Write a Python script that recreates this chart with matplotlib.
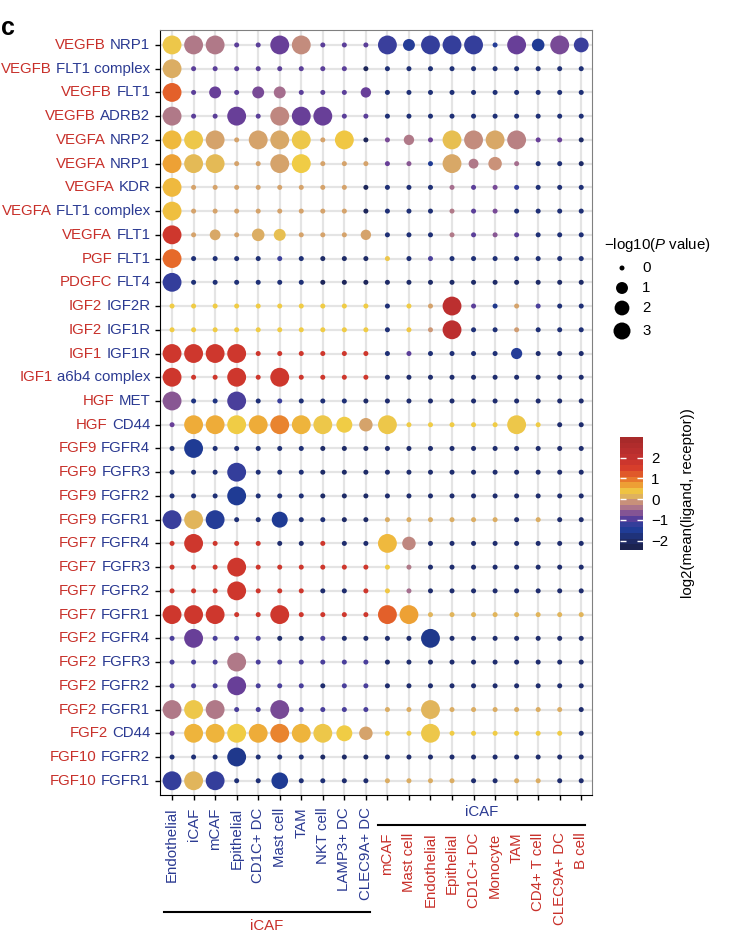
import numpy as np
import matplotlib
matplotlib.use('Agg')
import matplotlib.pyplot as plt
from matplotlib.colors import LinearSegmentedColormap, Normalize
from matplotlib.cm import ScalarMappable

plt.rcParams['font.family'] = ['Liberation Sans', 'DejaVu Sans']
plt.rcParams['mathtext.fontset'] = 'custom'
plt.rcParams['mathtext.it'] = 'Liberation Sans:italic'
plt.rcParams['mathtext.rm'] = 'Liberation Sans'

RED = '#c8302a'
BLUE = '#2b3a92'
FS = 10.8

# ligand / receptor pairs (rows, top to bottom)
ligands = ['VEGFB', 'VEGFB', 'VEGFB', 'VEGFB', 'VEGFA', 'VEGFA', 'VEGFA', 'VEGFA', 'VEGFA',
           'PGF', 'PDGFC', 'IGF2', 'IGF2', 'IGF1', 'IGF1', 'HGF', 'HGF',
           'FGF9', 'FGF9', 'FGF9', 'FGF9', 'FGF7', 'FGF7', 'FGF7', 'FGF7',
           'FGF2', 'FGF2', 'FGF2', 'FGF2', 'FGF2', 'FGF10', 'FGF10']
receptors = ['NRP1', 'FLT1 complex', 'FLT1', 'ADRB2', 'NRP2', 'NRP1', 'KDR', 'FLT1 complex', 'FLT1',
             'FLT1', 'FLT4', 'IGF2R', 'IGF1R', 'IGF1R', 'a6b4 complex', 'MET', 'CD44',
             'FGFR4', 'FGFR3', 'FGFR2', 'FGFR1', 'FGFR4', 'FGFR3', 'FGFR2', 'FGFR1',
             'FGFR4', 'FGFR3', 'FGFR2', 'FGFR1', 'CD44', 'FGFR2', 'FGFR1']

# columns: iCAF as ligand source (blue), iCAF as receptor target (red)
cols_blue = ['Endothelial', 'iCAF', 'mCAF', 'Epithelial', 'CD1C+ DC', 'Mast cell', 'TAM',
             'NKT cell', 'LAMP3+ DC', 'CLEC9A+ DC']
cols_red = ['mCAF', 'Mast cell', 'Endothelial', 'Epithelial', 'CD1C+ DC', 'Monocyte', 'TAM',
            'CD4+ T cell', 'CLEC9A+ DC', 'B cell']

# log2(mean(ligand, receptor)) per row
means = [
    [0.3, -0.4, -0.4, -1.0, -1.0, -0.9, -0.2, -1.0, -1.0, -1.0, -1.2, -1.5, -1.3, -1.3, -1.3, -1.5, -0.9, -1.6, -0.8, -1.2],
    [0.1, -1.0, -1.0, -1.0, -1.0, -1.0, -1.0, -1.0, -1.0, -2.3, -1.9, -1.9, -1.9, -1.9, -1.9, -1.9, -1.9, -1.9, -1.9, -1.9],
    [1.2, -1.0, -0.9, -1.0, -0.8, -0.5, -1.0, -1.0, -1.0, -0.9, -1.9, -1.9, -1.9, -1.9, -1.9, -1.9, -1.9, -1.9, -1.9, -1.9],
    [-0.4, -1.0, -1.0, -0.9, -1.0, -0.25, -0.9, -0.9, -1.0, -1.0, -1.9, -1.9, -1.9, -1.9, -1.9, -1.9, -1.9, -1.9, -1.9, -1.9],
    [0.5, 0.3, 0.0, 0.0, 0.0, 0.05, 0.3, 0.0, 0.4, -2.3, -0.8, -0.4, -0.9, 0.25, -0.2, 0.05, -0.3, -0.9, -0.9, -2.1],
    [0.7, 0.2, 0.2, 0.0, 0.0, 0.0, 0.35, 0.0, 0.0, 0.0, -0.9, -0.7, -1.6, 0.05, -0.4, -0.15, -0.5, -1.9, -1.9, -2.1],
    [0.5, 0.0, 0.0, 0.0, 0.0, 0.0, 0.0, 0.0, 0.0, -2.3, -1.9, -1.9, -1.9, -0.5, -1.0, -0.8, -1.3, -1.9, -1.9, -1.9],
    [0.45, 0.0, 0.0, 0.0, 0.0, 0.0, 0.0, 0.0, 0.0, -2.3, -1.9, -1.9, -1.9, -0.4, -1.0, -0.8, -1.9, -1.9, -1.9, -1.9],
    [1.8, 0.0, 0.05, 0.0, 0.1, 0.25, 0.0, 0.0, 0.0, 0.0, -1.9, -1.9, -1.9, -0.4, -1.0, -0.7, -1.0, -1.9, -1.9, -1.9],
    [1.1, -1.9, -1.9, -1.9, -1.9, -1.2, -1.9, -2.1, -2.1, -2.1, 0.3, -1.9, -1.1, -1.9, -1.9, -1.9, -1.9, -1.9, -1.9, -1.9],
    [-1.3, -1.9, -1.9, -1.9, -1.9, -1.9, -1.9, -2.3, -2.3, -2.3, -2.1, -2.1, -2.1, -2.1, -2.1, -2.1, -2.1, -2.1, -2.1, -2.1],
    [0.35, 0.35, 0.35, 0.35, 0.35, 0.35, 0.35, 0.35, 0.35, 0.35, -1.9, 0.35, 0.0, 2.3, -1.0, -1.7, 0.0, -1.1, -1.9, -1.9],
    [0.35, 0.35, 0.35, 0.35, 0.35, 0.35, 0.35, 0.35, 0.35, 0.35, -1.9, 0.4, -0.1, 2.3, -1.9, -1.9, -0.05, -1.9, -1.9, -1.9],
    [1.8, 1.8, 1.8, 1.8, 1.8, 1.8, 1.8, 1.8, 1.8, 1.8, -1.9, -1.0, -1.9, -1.9, -1.9, -1.9, -1.5, -2.0, -2.0, -2.0],
    [1.8, 1.8, 1.8, 1.8, 1.8, 1.8, 1.8, 1.8, 1.8, 1.8, -2.0, -2.0, -2.0, -2.0, -2.0, -2.0, -2.0, -2.0, -2.0, -2.0],
    [-0.7, -1.8, -1.8, -1.1, -1.9, -1.2, -1.9, -1.9, -1.9, -2.1, -2.0, -2.0, -2.0, -2.0, -2.0, -2.0, -2.0, -2.0, -2.0, -2.0],
    [-0.9, 0.6, 0.6, 0.35, 0.6, 0.9, 0.55, 0.3, 0.35, 0.0, 0.3, 0.35, 0.35, 0.35, 0.35, 0.35, 0.3, 0.35, -2.0, -2.0],
    [-1.9, -1.6, -1.9, -1.9, -1.9, -1.9, -1.9, -2.1, -2.1, -2.1, -2.0, -2.0, -2.0, -2.0, -2.0, -2.0, -2.0, -2.0, -2.0, -2.0],
    [-1.9, -1.9, -1.9, -1.3, -1.9, -1.9, -1.9, -2.1, -2.1, -2.1, -2.0, -2.0, -2.0, -2.0, -2.0, -2.0, -2.0, -2.0, -2.0, -2.0],
    [-1.9, -1.9, -1.9, -1.6, -1.9, -1.9, -1.9, -2.1, -2.1, -2.1, -2.0, -2.0, -2.0, -2.0, -2.0, -2.0, -2.0, -2.0, -2.0, -2.0],
    [-1.2, 0.15, -1.5, -1.9, -1.9, -1.6, -1.9, -1.9, -2.1, -2.1, 0.1, 0.1, 0.1, 0.1, 0.1, 0.1, -2.0, 0.1, -2.0, -2.0],
    [1.8, 1.8, 1.8, 1.8, 1.8, -2.0, -2.0, 1.8, -2.0, -2.0, 0.5, -0.25, -2.0, -2.0, -2.0, -2.0, -2.0, -2.0, -2.0, -2.0],
    [1.8, 1.8, 1.8, 1.8, 1.8, 1.8, 1.8, 1.8, 1.8, 1.8, 0.35, -0.4, -2.0, -2.0, -2.0, -2.0, -2.0, -2.0, -2.0, -2.0],
    [1.8, 1.8, 1.8, 1.8, 1.8, 1.8, 1.8, -2.0, -2.0, 1.8, 0.4, -0.5, -2.0, -2.0, -2.0, -2.0, -2.0, -2.0, -2.0, -2.0],
    [1.8, 1.8, 1.8, 1.8, 1.8, 1.8, 1.8, 1.8, 1.8, 1.8, 1.2, 0.7, 0.15, 0.15, 0.15, 0.15, 0.15, 0.15, 0.15, 0.15],
    [-1.1, -0.9, -1.1, -1.1, -1.1, -2.0, -2.0, -1.1, -2.0, -2.0, -2.0, -2.0, -1.7, -2.0, -2.0, -2.0, -2.0, -2.0, -2.0, -2.0],
    [-1.1, -1.1, -1.1, -0.4, -1.1, -1.1, -1.1, -1.1, -1.1, -1.1, -2.0, -2.0, -2.0, -2.0, -2.0, -2.0, -2.0, -2.0, -2.0, -2.0],
    [-1.1, -1.1, -1.1, -0.9, -1.1, -1.1, -1.1, -2.0, -1.1, -1.1, -2.0, -2.0, -2.0, -2.0, -2.0, -2.0, -2.0, -2.0, -2.0, -2.0],
    [-0.4, 0.3, -0.4, -1.1, -1.1, -0.8, -1.1, -1.1, -1.1, -1.1, 0.1, 0.1, 0.15, 0.1, 0.1, 0.1, 0.1, 0.1, 0.1, -2.0],
    [-0.9, 0.55, 0.55, 0.35, 0.6, 0.9, 0.55, 0.3, 0.35, 0.0, 0.35, 0.35, 0.3, 0.35, 0.35, 0.35, 0.35, 0.35, 0.35, -2.0],
    [-1.9, -1.9, -1.9, -1.7, -1.9, -1.9, -1.9, -2.1, -2.1, -2.1, -2.0, -2.0, -2.0, -2.0, -2.0, -2.0, -2.0, -2.0, -2.0, -2.0],
    [-1.3, 0.15, -1.3, -1.9, -1.9, -1.6, -1.9, -1.9, -2.0, -2.0, 0.1, 0.1, 0.1, 0.1, -2.0, -2.0, 0.1, 0.1, -2.0, -2.0],
]

# -log10(P value) per row
pvals = [
    [4, 4, 4, 0, 0, 4, 4, 0, 0, 0, 4, 1, 4, 4, 4, 0, 4, 1.2, 4, 2],
    [4, 0, 0, 0, 0, 0, 0, 0, 0, 0, 0, 0, 0, 0, 0, 0, 0, 0, 0, 0],
    [4, 0, 1, 0, 1, 1, 0, 0, 0, 0.6, 0, 0, 0, 0, 0, 0, 0, 0, 0, 0],
    [4, 0, 0, 4, 0, 4, 4, 4, 0, 0, 0, 0, 0, 0, 0, 0, 0, 0, 0, 0],
    [4, 4, 4, 0, 4, 4, 4, 0, 4, 0, 0, 0.6, 0, 4, 4, 4, 4, 0, 0, 0],
    [4, 4, 4, 0, 0, 4, 4, 0, 0, 0, 0, 0, 0, 4, 0.5, 1.5, 0, 0, 0, 0],
    [4, 0, 0, 0, 0, 0, 0, 0, 0, 0, 0, 0, 0, 0, 0, 0, 0, 0, 0, 0],
    [4, 0, 0, 0, 0, 0, 0, 0, 0, 0, 0, 0, 0, 0, 0, 0, 0, 0, 0, 0],
    [4, 0, 0.7, 0, 1.2, 1, 0, 0, 0, 0.6, 0, 0, 0, 0, 0, 0, 0, 0, 0, 0],
    [4, 0, 0, 0, 0, 0, 0, 0, 0, 0, 0, 0, 0, 0, 0, 0, 0, 0, 0, 0],
    [4, 0, 0, 0, 0, 0, 0, 0, 0, 0, 0, 0, 0, 0, 0, 0, 0, 0, 0, 0],
    [0, 0, 0, 0, 0, 0, 0, 0, 0, 0, 0, 0, 0, 4, 0, 0, 0, 0, 0, 0],
    [0, 0, 0, 0, 0, 0, 0, 0, 0, 0, 0, 0, 0, 4, 0, 0, 0, 0, 0, 0],
    [4, 4, 4, 4, 0, 0, 0, 0, 0, 0, 0, 0, 0, 0, 0, 0, 0.8, 0, 0, 0],
    [4, 0, 0, 4, 0, 4, 0, 0, 0, 0, 0, 0, 0, 0, 0, 0, 0, 0, 0, 0],
    [4, 0, 0, 4, 0, 0, 0, 0, 0, 0, 0, 0, 0, 0, 0, 0, 0, 0, 0, 0],
    [0, 4, 4, 4, 4, 4, 4, 4, 2.5, 1.5, 4, 0, 0, 0, 0, 0, 4, 0, 0, 0],
    [0, 4, 0, 0, 0, 0, 0, 0, 0, 0, 0, 0, 0, 0, 0, 0, 0, 0, 0, 0],
    [0, 0, 0, 4, 0, 0, 0, 0, 0, 0, 0, 0, 0, 0, 0, 0, 0, 0, 0, 0],
    [0, 0, 0, 4, 0, 0, 0, 0, 0, 0, 0, 0, 0, 0, 0, 0, 0, 0, 0, 0],
    [4, 4, 4, 0, 0, 2.5, 0, 0, 0, 0, 0, 0, 0, 0, 0, 0, 0, 0, 0, 0],
    [0, 4, 0, 0, 0, 0, 0, 0, 0, 0, 4, 1.5, 0, 0, 0, 0, 0, 0, 0, 0],
    [0, 0, 0, 4, 0, 0, 0, 0, 0, 0, 0, 0, 0, 0, 0, 0, 0, 0, 0, 0],
    [0, 0, 0, 4, 0, 0, 0, 0, 0, 0, 0, 0, 0, 0, 0, 0, 0, 0, 0, 0],
    [4, 4, 4, 0, 0, 4, 0, 0, 0, 0, 4, 4, 0, 0, 0, 0, 0, 0, 0, 0],
    [0, 4, 0, 0, 0, 0, 0, 0, 0, 0, 0, 0, 4, 0, 0, 0, 0, 0, 0, 0],
    [0, 0, 0, 4, 0, 0, 0, 0, 0, 0, 0, 0, 0, 0, 0, 0, 0, 0, 0, 0],
    [0, 0, 0, 4, 0, 0, 0, 0, 0, 0, 0, 0, 0, 0, 0, 0, 0, 0, 0, 0],
    [4, 4, 4, 0, 0, 4, 0, 0, 0, 0, 0, 0, 4, 0, 0, 0, 0, 0, 0, 0],
    [0, 4, 4, 4, 4, 4, 4, 4, 2.5, 1.5, 0, 0, 4, 0, 0, 0, 0, 0, 0, 0],
    [0, 0, 0, 4, 0, 0, 0, 0, 0, 0, 0, 0, 0, 0, 0, 0, 0, 0, 0, 0],
    [4, 4, 4, 0, 0, 2.8, 0, 0, 0, 0, 0, 0, 0, 0, 0, 0, 0, 0, 0, 0],
]

size_breaks = [0, 1, 2, 3]
cbar_ticks = [-2, -1, 0, 1, 2]
VMIN, VMAX = -2.45, 3.0

# colour scale
nodes = [(-2.45, '#1c2350'), (-2.0, '#1f2d6e'), (-1.6, '#1f3c96'), (-1.2, '#3b3f9c'),
         (-0.9, '#6a3f98'), (-0.5, '#a66f8e'), (-0.15, '#c9917a'), (0.1, '#dcae62'),
         (0.35, '#f0cc45'), (0.7, '#eda035'), (1.1, '#e66a2a'), (1.6, '#d63b2b'),
         (2.2, '#bf3030'), (3.0, '#a82a2a')]
cmap = LinearSegmentedColormap.from_list(
    'lr', [((v - VMIN) / (VMAX - VMIN), c) for v, c in nodes])
norm = Normalize(VMIN, VMAX)


def dot_size(p):
    d = 5 + 12 * np.sqrt(np.asarray(p, dtype=float) / 3)   # diameter in px
    return (d * 0.72) ** 2


fig = plt.figure(figsize=(7.36, 9.48), dpi=100)
W, H = 736, 948
ax = fig.add_axes([160 / W, 1 - 795 / H, 432 / W, 765 / H])

nrow, ncol = len(ligands), len(cols_blue) + len(cols_red)
xx, yy = np.meshgrid(np.arange(ncol), np.arange(nrow))
M = np.array(means)
P = np.array(pvals)
ax.scatter(xx.ravel(), yy.ravel(), s=dot_size(P.ravel()), c=M.ravel(),
           cmap=cmap, norm=norm, linewidths=0, zorder=3)

ax.set_xlim(-0.56, 19.5)
ax.set_ylim(31.6, -0.63)
ax.set_xticks(range(ncol))
ax.set_yticks(range(nrow))
ax.set_xticklabels([])
ax.set_yticklabels([])
ax.grid(True, color='#e4e4e4', lw=1.6)
ax.set_axisbelow(True)
ax.tick_params(length=3.5, width=1, color='black')
for s in ['top', 'right']:
    ax.spines[s].set_color('#808080')
for s in ['left', 'bottom']:
    ax.spines[s].set_color('black')

# two-coloured y labels
for i, (lig, rec) in enumerate(zip(ligands, receptors)):
    t = ax.annotate(rec, xy=(0, i), xycoords=('axes fraction', 'data'),
                    xytext=(-7, 0), textcoords='offset points',
                    ha='right', va='center', fontsize=FS, color=BLUE)
    ax.annotate(lig, xy=(0, 0.5), xycoords=t, xytext=(-3, 0),
                textcoords='offset points', ha='right', va='center',
                fontsize=FS, color=RED)

# x labels
for j, lab in enumerate(cols_blue):
    ax.annotate(lab, xy=(j, 0), xycoords=('data', 'axes fraction'),
                xytext=(0, -9), textcoords='offset points', rotation=90,
                ha='center', va='top', fontsize=FS, color=BLUE)
for j, lab in enumerate(cols_red):
    ax.annotate(lab, xy=(j + len(cols_blue), 0), xycoords=('data', 'axes fraction'),
                xytext=(0, -27), textcoords='offset points', rotation=90,
                ha='center', va='top', fontsize=FS, color=RED)

# overlay in pixel coordinates for brackets / legend
ov = fig.add_axes([0, 0, 1, 1], facecolor='none')
ov.set_xlim(0, W)
ov.set_ylim(H, 0)
ov.axis('off')
ov.plot([164, 370], [912, 912], color='black', lw=1.5)
ov.text(267, 926, 'iCAF', color=RED, fontsize=FS, ha='center', va='center')
ov.plot([378, 585], [825, 825], color='black', lw=1.5)
ov.text(482, 812, 'iCAF', color=BLUE, fontsize=FS, ha='center', va='center')

ov.text(1, 28, 'c', fontsize=18, fontweight='bold', va='center', ha='left')

# size legend
ov.text(604, 245, r'$-$log10($\mathit{P}$ value)', fontsize=FS, va='center', ha='left')
leg_y = [268, 288, 308, 331]
ov.scatter([622] * len(size_breaks), leg_y, s=dot_size(size_breaks), color='black', linewidths=0)
for b, y in zip(size_breaks, leg_y):
    ov.text(642, y, str(b), fontsize=FS, va='center', ha='left')

# colour bar
cax = fig.add_axes([620 / W, 1 - 550 / H, 23 / W, 113 / H])
cb = fig.colorbar(ScalarMappable(norm=norm, cmap=cmap.resampled(20)), cax=cax, ticks=cbar_ticks)
cb.outline.set_visible(False)
cb.ax.set_yticklabels(['\u22122', '\u22121', '0', '1', '2'], fontsize=FS)
cb.ax.tick_params(direction='in', color='white', length=4, width=1, left=True, right=True, pad=6)
ov.text(688, 503, 'log2(mean(ligand, receptor))', rotation=90, fontsize=FS,
        ha='center', va='center')

fig.savefig('out.png', dpi=100)
